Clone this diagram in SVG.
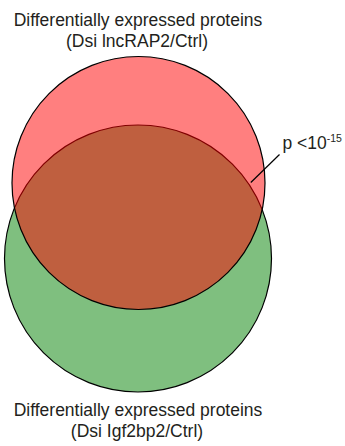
<svg xmlns="http://www.w3.org/2000/svg" width="345" height="446" viewBox="0 0 345 446">
<style>
.t{font-family:"Liberation Sans",Arial,sans-serif;font-size:17.5px;fill:#231f20;text-anchor:middle}
.p{font-family:"Liberation Sans",Arial,sans-serif;font-size:17.5px;fill:#231f20}
.c{stroke:#000;stroke-width:1.2}
</style>
<rect width="345" height="446" fill="#fff"/>
<g id="set-igf2bp2">
<circle class="c" cx="138" cy="258.5" r="133.5" fill="#008000" fill-opacity="0.5"/>
</g>
<g id="set-lncrap2">
<circle class="c" cx="138.5" cy="183" r="126.5" fill="#ff0000" fill-opacity="0.5"/>
</g>
<g id="connectors">
<line x1="279.5" y1="154.5" x2="250.8" y2="182.5" stroke="#000" stroke-width="1.2"/>
</g>
<g id="label-top">
<text class="t" x="138" y="26">Differentially expressed proteins</text>
<text class="t" x="137" y="47">(Dsi lncRAP2/Ctrl)</text>
</g>
<g id="label-bottom">
<text class="t" x="138" y="416">Differentially expressed proteins</text>
<text class="t" x="137" y="437">(Dsi Igf2bp2/Ctrl)</text>
</g>
<g id="label-p">
<text class="p" x="282.5" y="149">p &lt;10<tspan font-size="10.5" dy="-7">-15</tspan></text>
</g>
</svg>
